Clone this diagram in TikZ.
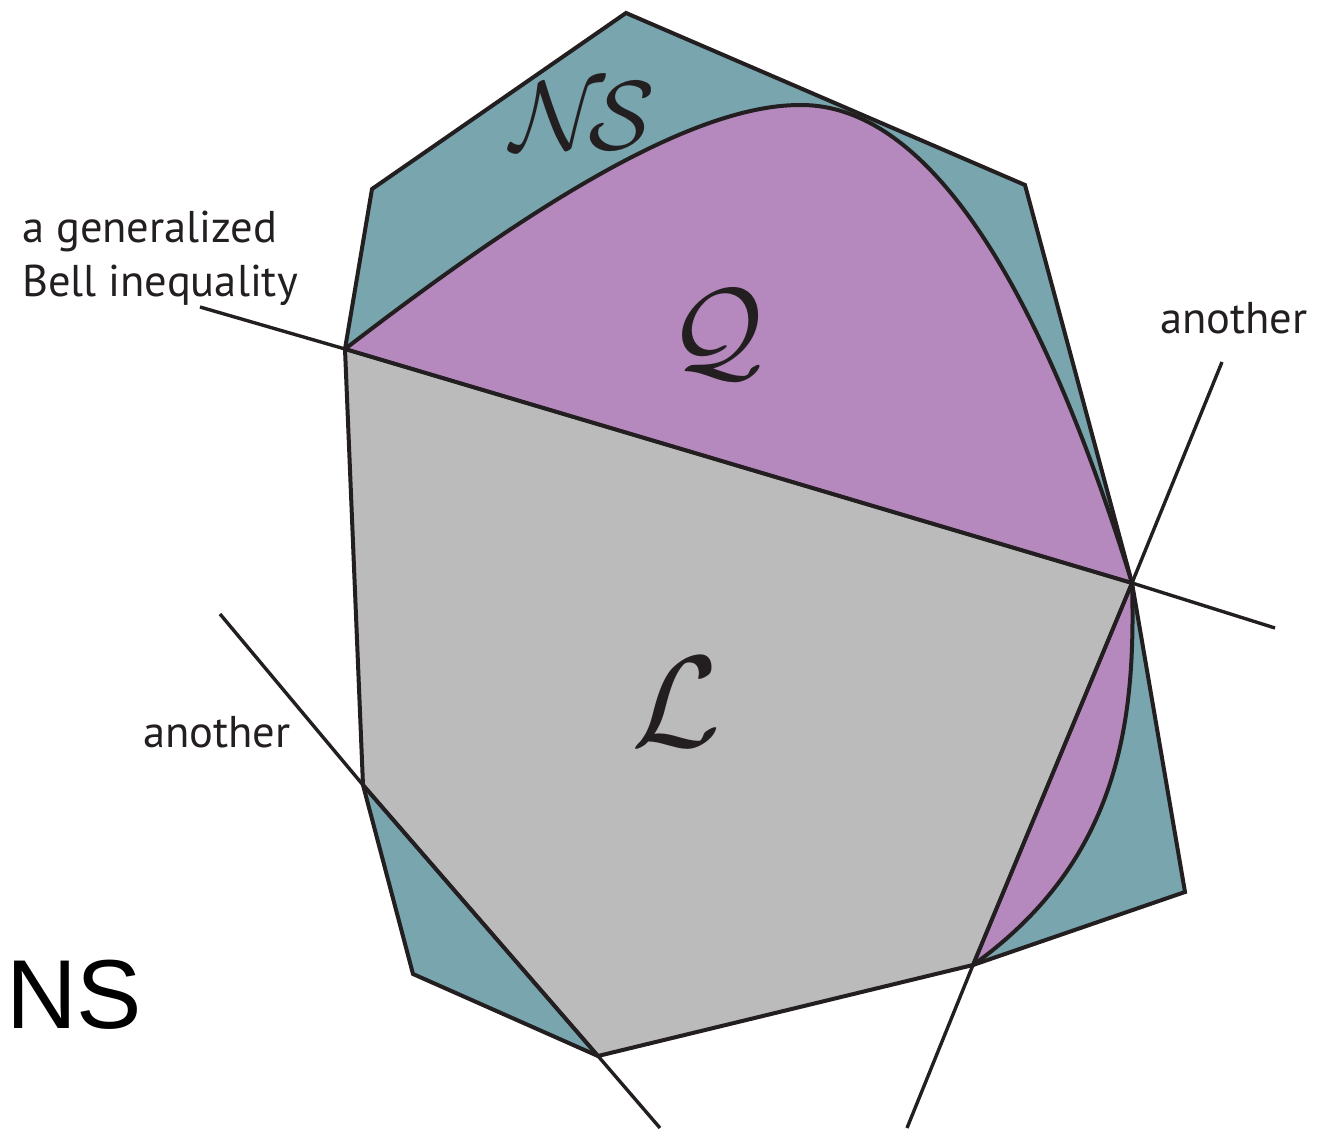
\documentclass[tikz,border=0pt]{standalone}
\usepackage{fontspec}
\setmainfont{PT Sans}
\newfontfamily\helv{Liberation Sans}
\definecolor{nsteal}{RGB}{121,165,174}
\definecolor{qpurple}{RGB}{181,137,189}
\definecolor{lgray}{RGB}{187,187,187}
\definecolor{ink}{RGB}{35,31,32}
\begin{document}
\begin{tikzpicture}[x=1pt,y=-1pt,
  edge/.style={draw=ink,line width=4pt,line join=miter},
  facet/.style={draw=ink,line width=3.4pt},
  lbl/.style={inner sep=0pt,text=ink,font=\fontsize{44.5}{54}\selectfont},
  cal/.style={inner sep=0pt,text=ink}]
\useasboundingbox (0,0) rectangle (1323,1131);
% vertices
\coordinate (A) at (626,13);
\coordinate (B) at (1025,185);
\coordinate (C) at (1132,583);
\coordinate (D) at (1185,892);
\coordinate (E) at (973,965);
\coordinate (F) at (598,1056);
\coordinate (G) at (413,974);
\coordinate (H) at (363,785);
\coordinate (I) at (345,349);
\coordinate (J) at (372,189);
% line ends
\coordinate (b1) at (200,307);
\coordinate (b2) at (1275,628);
\coordinate (r1) at (1222,362);
\coordinate (r2) at (907,1128);
\coordinate (l1) at (220,614);
\coordinate (l2) at (660,1128);
% NS polytope
\fill[nsteal] (A) -- (B) -- (C) -- (D) -- (E) -- (F) -- (G) -- (H) -- (I) -- (J) -- cycle;
% Q regions
\fill[qpurple] (I) .. controls (500,230) and (680,105) .. (800,105)
   .. controls (950,104) and (1060,350) .. (C) -- cycle;
\fill[qpurple] (C) .. controls (1136,720) and (1120,860) .. (E) -- cycle;
% L polytope
\fill[lgray] (I) -- (C) -- (E) -- (F) -- (H) -- cycle;
% Q boundary curves
\draw[edge] (I) .. controls (500,230) and (680,105) .. (800,105)
   .. controls (950,104) and (1060,350) .. (C);
\draw[edge] (C) .. controls (1136,720) and (1120,860) .. (E);
% outlines
\draw[edge] (A) -- (B) -- (C) -- (D) -- (E) -- (F) -- (G) -- (H) -- (I) -- (J) -- cycle;
\draw[edge] (I) -- (C) -- (E);
\draw[edge] (F) -- (H);
% facet lines
\draw[facet] (b1) -- (I) -- (C) -- (b2);
\draw[facet] (r1) -- (C) -- (E) -- (r2);
\draw[facet] (l1) -- (H) -- (F) -- (l2);
% labels
\node[cal] (nsl) at (583,116) {\scalebox{9.8}{$\mathcal{N}\!\mathcal{S}$}};
\node[cal] (ql) at (716,335) {\scalebox{11.5}{$\mathcal{Q}$}};
\node[cal] (ll) at (676,702) {\scalebox{13}{$\mathcal{L}$}};
\node[lbl,anchor=base west] (t1) at (22,243) {a generalized};
\node[lbl,anchor=base west] (t2) at (22,297) {Bell inequality};
\node[lbl,anchor=base west] (t3) at (1160,334) {another};
\node[lbl,anchor=base west] (t4) at (143,747) {another};
\node[inner sep=0pt,anchor=base west,text=black,font=\helv\fontsize{98}{98}\selectfont] (ns) at (6,1028) {NS};
\end{tikzpicture}
\end{document}
